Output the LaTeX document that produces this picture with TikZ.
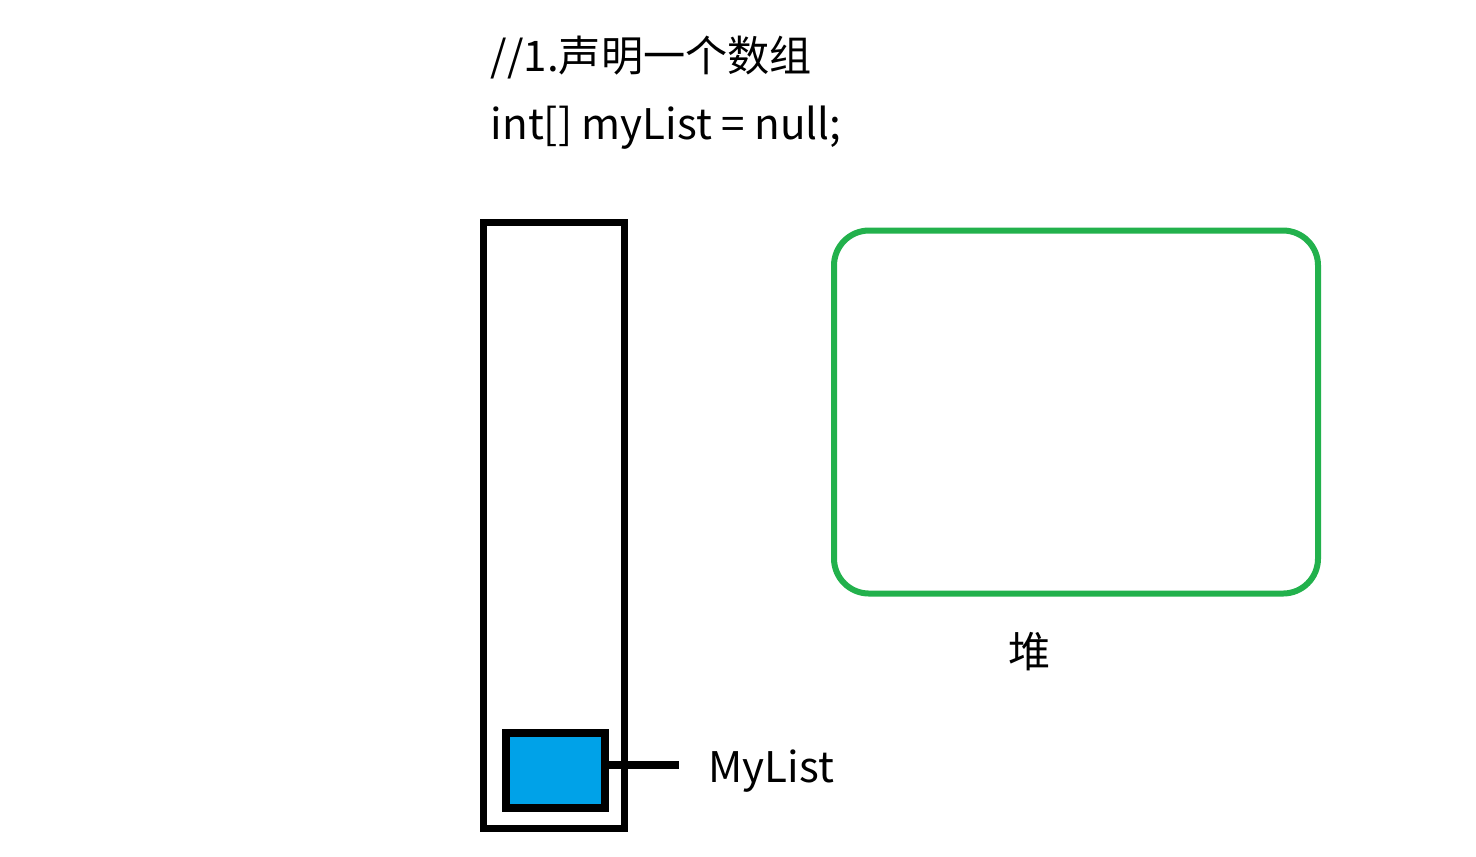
\documentclass[tikz,border=0pt]{standalone}
\usepackage{fontspec}
\setmainfont{Noto Sans CJK SC}
\usetikzlibrary{positioning}
\definecolor{slotblue}{HTML}{00A2E8}
\definecolor{heapgreen}{HTML}{22B14C}

\begin{document}
\begin{tikzpicture}[
    every node/.style={font=\fontsize{12}{14}\selectfont, inner sep=0},
    code/.style={anchor=base west},
    stack/.style={draw, line width=0.07cm, minimum width=1.41cm, minimum height=6.06cm},
    slot/.style={draw, line width=0.08cm, fill=slotblue, minimum width=0.99cm, minimum height=0.75cm},
    heap/.style={draw=heapgreen, line width=0.06cm, rounded corners=0.35cm, minimum width=4.84cm, minimum height=3.63cm},
    link/.style={line width=0.075cm}
]
\useasboundingbox (0,0) rectangle (14.76,-8.56);
% code lines
\node[code] (decl) at (4.90,-0.71) {//1.声明一个数组};
\node[code] (init) at (4.90,-1.39) {int[] myList = null;};
% stack with the reference slot
\node[stack] (stack) at (5.54,-5.25) {};
\node[slot] (slot) at (5.555,-7.705) {};
\coordinate (tip) at (6.79,-7.65);
\draw[link] (slot.east |- tip) -- (tip);
\node[code] (name) at (7.08,-7.82) {MyList};
% heap
\node[heap] (heap) at (10.76,-4.12) {};
\node (heaplabel) at (10.30,-6.52) {堆};
\end{tikzpicture}
\end{document}
